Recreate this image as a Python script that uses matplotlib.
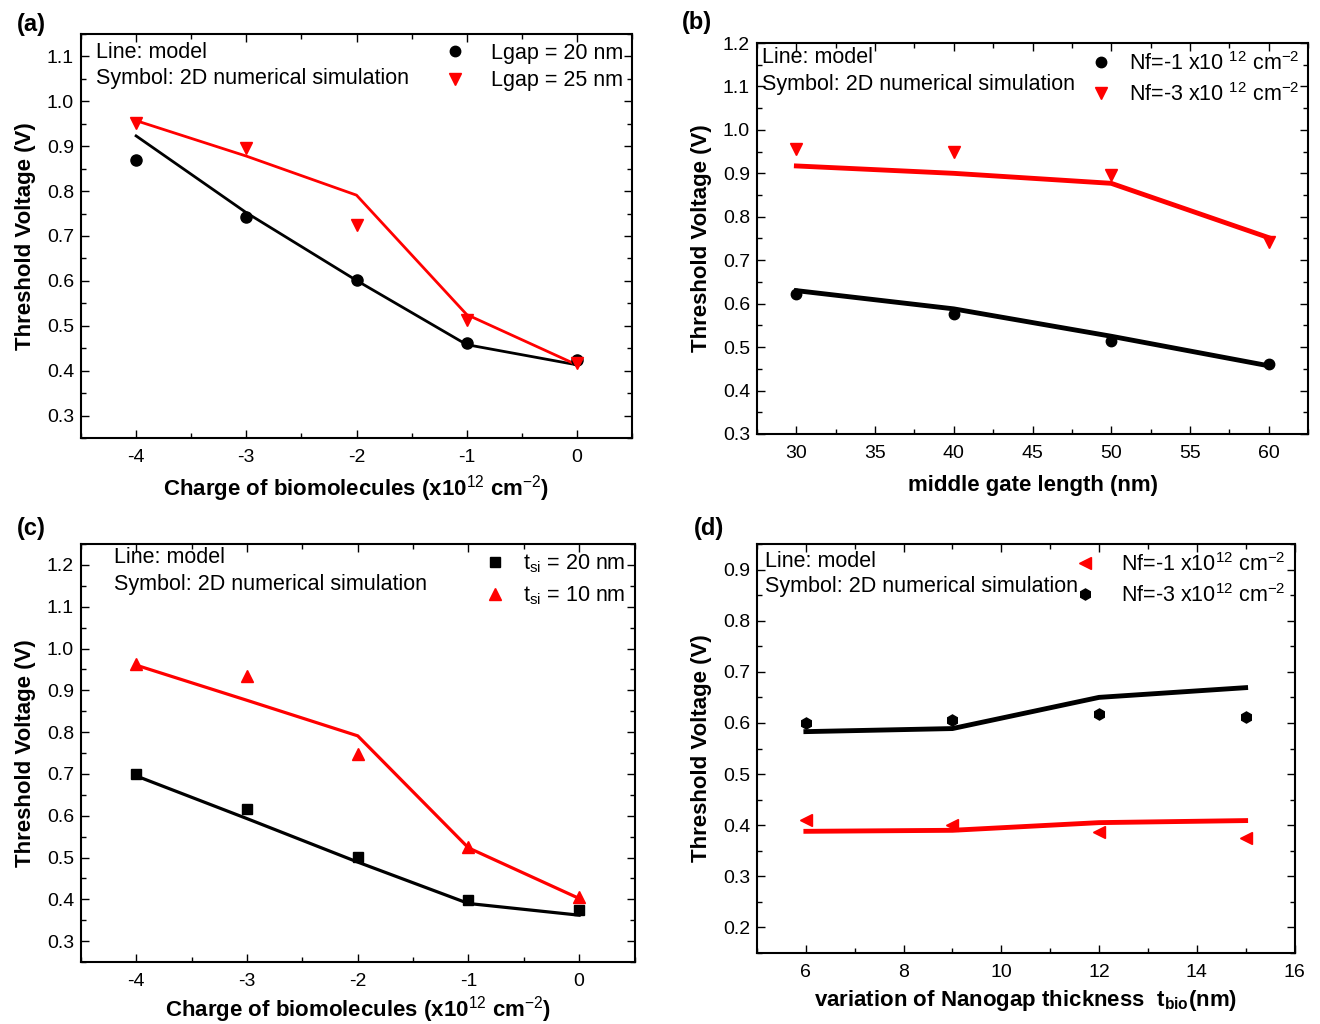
import matplotlib
matplotlib.use("Agg")
import matplotlib.pyplot as plt
from matplotlib.lines import Line2D
from matplotlib.ticker import MultipleLocator

plt.rcParams['font.family'] = ['Liberation Sans', 'DejaVu Sans']
plt.rcParams['mathtext.fontset'] = 'custom'
plt.rcParams['mathtext.rm'] = 'Liberation Sans'
plt.rcParams['mathtext.it'] = 'Liberation Sans:italic'
plt.rcParams['mathtext.bf'] = 'Liberation Sans:bold'
plt.rcParams['mathtext.default'] = 'rm'
plt.rcParams['axes.unicode_minus'] = False

# ---------------- data ----------------
# (a)
a_x = [-4, -3, -2, -1, 0]
a_sim20 = [0.870, 0.742, 0.601, 0.461, 0.423]
a_mod20 = [0.923, 0.752, 0.601, 0.458, 0.413]
a_sim25 = [0.952, 0.896, 0.725, 0.512, 0.418]
a_mod25 = [0.957, 0.878, 0.791, 0.525, 0.413]
# (b)
b_x = [30, 40, 50, 60]
b_sim1 = [0.622, 0.576, 0.514, 0.462]
b_mod1 = [0.630, 0.588, 0.525, 0.457]
b_sim3 = [0.957, 0.950, 0.896, 0.741]
b_mod3 = [0.917, 0.900, 0.877, 0.752]
# (c)
c_x = [-4, -3, -2, -1, 0]
c_sim20 = [0.700, 0.615, 0.501, 0.398, 0.374]
c_mod20 = [0.695, 0.593, 0.489, 0.390, 0.362]
c_sim10 = [0.962, 0.935, 0.748, 0.525, 0.405]
c_mod10 = [0.960, 0.876, 0.791, 0.523, 0.402]
# (d)
d_x = [6, 9, 12, 15]
d_sim3 = [0.600, 0.605, 0.618, 0.611]
d_mod3 = [0.583, 0.589, 0.650, 0.669]
d_sim1 = [0.410, 0.400, 0.386, 0.375]
d_mod1 = [0.388, 0.390, 0.405, 0.409]

RED = '#ff0000'
TICK_FS = 14
TXT_FS = 15.5
LAB_FS = 16

fig = plt.figure(figsize=(13.2, 10.24), dpi=100)

def style(ax, xmaj, xmin, ymaj, ymin):
    ax.xaxis.set_major_locator(MultipleLocator(xmaj))
    ax.xaxis.set_minor_locator(MultipleLocator(xmin))
    ax.yaxis.set_major_locator(MultipleLocator(ymaj))
    ax.yaxis.set_minor_locator(MultipleLocator(ymin))
    ax.tick_params(which='both', direction='in', top=True, right=True,
                   labelsize=TICK_FS, width=1.0)
    ax.tick_params(which='major', length=6)
    ax.tick_params(which='minor', length=3.5)
    ax.tick_params(axis='x', pad=8)
    ax.tick_params(axis='y', pad=5)
    for s in ax.spines.values():
        s.set_linewidth(1.5)

def notes(ax, x, y1, y2):
    ax.text(x, y1, 'Line: model', transform=ax.transAxes, fontsize=TXT_FS, va='center', ha='left')
    ax.text(x, y2, 'Symbol: 2D numerical simulation', transform=ax.transAxes, fontsize=TXT_FS, va='center', ha='left')

def leg(ax, handles, labels, spacing=0.3, tpad=1.0):
    ax.legend(handles, labels, loc='upper right', bbox_to_anchor=(1.0, 1.0), frameon=False,
              fontsize=TXT_FS, handlelength=1.0, handletextpad=tpad, labelspacing=spacing,
              borderaxespad=0.2, borderpad=0.2)

# ---------- (a) ----------
ax = fig.add_axes([81/1320, 1-438/1024, 551/1320, 404/1024])
ax.plot(a_x, a_mod20, color='black', lw=2.0)
ax.plot(a_x, a_mod25, color=RED, lw=2.0)
ax.plot(a_x, a_sim20, 'o', color='black', ms=8, ls='none')
ax.plot(a_x, a_sim25, 'v', color=RED, ms=9, ls='none')
ax.set_xlim(-4.5, 0.5)
ax.set_ylim(0.25, 1.15)
style(ax, 1, 0.5, 0.1, 0.05)
ax.set_ylabel('Threshold Voltage (V)', fontsize=LAB_FS, fontweight='bold', labelpad=8)
ax.set_xlabel(r'Charge of biomolecules (x10$^{12}$ cm$^{-2}$)', fontsize=LAB_FS, fontweight='bold', labelpad=5)
notes(ax, 0.027, 0.955, 0.891)
leg(ax, [Line2D([], [], marker='o', color='black', ls='none', ms=7.5),
         Line2D([], [], marker='v', color=RED, ls='none', ms=9)],
    ['Lgap = 20 nm', 'Lgap = 25 nm'], tpad=1.2)
fig.text(31/1320, 1-25/1024, '(a)', fontsize=17, fontweight='bold', ha='center', va='center')

# ---------- (b) ----------
ax = fig.add_axes([757/1320, 1-434/1024, 551/1320, 391/1024])
ax.plot(b_x, b_mod1, color='black', lw=3.5)
ax.plot(b_x, b_mod3, color=RED, lw=3.5)
ax.plot(b_x, b_sim1, 'o', color='black', ms=7.5, ls='none')
ax.plot(b_x, b_sim3, 'v', color=RED, ms=8.5, ls='none')
ax.set_xlim(27.5, 62.5)
ax.set_ylim(0.3, 1.2)
style(ax, 5, 2.5, 0.1, 0.05)
ax.set_ylabel('Threshold Voltage (V)', fontsize=LAB_FS, fontweight='bold', labelpad=8)
ax.set_xlabel('middle gate length (nm)', fontsize=LAB_FS, fontweight='bold', labelpad=9)
notes(ax, 0.009, 0.962, 0.895)
leg(ax, [Line2D([], [], marker='o', color='black', ls='none', ms=7.5),
         Line2D([], [], marker='v', color=RED, ls='none', ms=8.5)],
    [r'Nf=-1 x10 $^{12}$ cm$^{-2}$', r'Nf=-3 x10 $^{12}$ cm$^{-2}$'], spacing=0.4, tpad=0.8)
fig.text(697/1320, 1-22/1024, '(b)', fontsize=17, fontweight='bold', ha='center', va='center')

# ---------- (c) ----------
ax = fig.add_axes([81/1320, 1-962/1024, 553.5/1320, 418/1024])
ax.plot(c_x, c_mod20, color='black', lw=2.3)
ax.plot(c_x, c_mod10, color=RED, lw=2.3)
ax.plot(c_x, c_sim20, 's', color='black', ms=7, ls='none')
ax.plot(c_x, c_sim10, '^', color=RED, ms=9, ls='none')
ax.set_xlim(-4.5, 0.5)
ax.set_ylim(0.25, 1.25)
style(ax, 1, 0.5, 0.1, 0.05)
ax.set_ylabel('Threshold Voltage (V)', fontsize=LAB_FS, fontweight='bold', labelpad=8)
ax.set_xlabel(r'Charge of biomolecules (x10$^{12}$ cm$^{-2}$)', fontsize=LAB_FS, fontweight='bold', labelpad=3)
notes(ax, 0.06, 0.967, 0.902)
leg(ax, [Line2D([], [], marker='s', color='black', ls='none', ms=7),
         Line2D([], [], marker='^', color=RED, ls='none', ms=9)],
    [r't$_{\mathregular{si}}$ = 20 nm', r't$_{\mathregular{si}}$ = 10 nm'], spacing=0.45, tpad=0.8)
fig.text(31/1320, 1-528/1024, '(c)', fontsize=17, fontweight='bold', ha='center', va='center')

# ---------- (d) ----------
ax = fig.add_axes([757/1320, 1-953/1024, 537.5/1320, 409/1024])
ax.plot(d_x, d_mod3, color='black', lw=3.5)
ax.plot(d_x, d_mod1, color=RED, lw=3.5)
ax.plot(d_x, d_sim3, 'h', color='black', ms=8, ls='none')
ax.plot(d_x, d_sim1, '<', color=RED, ms=8.5, ls='none')
ax.set_xlim(5, 16)
ax.set_ylim(0.15, 0.95)
style(ax, 2, 1, 0.1, 0.05)
ax.set_ylabel('Threshold Voltage (V)', fontsize=LAB_FS, fontweight='bold', labelpad=8)
ax.set_xlabel(r'variation of Nanogap thickness  t$_{\mathbf{bio}}$(nm)', fontsize=LAB_FS, fontweight='bold', labelpad=5)
notes(ax, 0.015, 0.958, 0.895)
leg(ax, [Line2D([], [], marker='<', color=RED, ls='none', ms=8.5),
         Line2D([], [], marker='h', color='black', ls='none', ms=8)],
    [r'Nf=-1 x10$^{12}$ cm$^{-2}$', r'Nf=-3 x10$^{12}$ cm$^{-2}$'], spacing=0.4, tpad=1.2)
fig.text(709/1320, 1-528/1024, '(d)', fontsize=17, fontweight='bold', ha='center', va='center')

fig.savefig('out.png', dpi=100)
